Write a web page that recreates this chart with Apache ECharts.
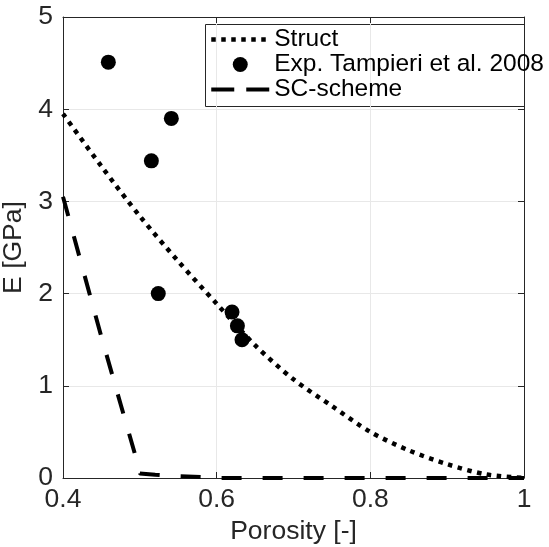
<!DOCTYPE html>
<html>
<head>
<meta charset="utf-8">
<script src="https://cdn.jsdelivr.net/npm/echarts@6/dist/echarts.min.js"></script>
<style>
html,body{margin:0;padding:0;background:#fff;}
#chart{width:549px;height:547px;}
</style>
</head>
<body>
<div id="chart"></div>
<script>
// Struct model curve (porosity, E)
var structX = [0.40, 0.45, 0.50, 0.55, 0.60, 0.65, 0.70, 0.75, 0.80, 0.85, 0.90, 0.95, 1.00];
var structE = [3.95, 3.38, 2.84, 2.35, 1.89, 1.44, 1.07, 0.78, 0.50, 0.30, 0.15, 0.04, 0.00];
// Experimental data, Tampieri et al. 2008
var expX = [0.459, 0.541, 0.515, 0.524, 0.620, 0.627, 0.633];
var expE = [4.51, 3.90, 3.44, 2.00, 1.80, 1.65, 1.50];
// SC-scheme curve
var scX = [0.40, 0.425, 0.45, 0.475, 0.494, 0.50, 0.52, 0.55, 0.58, 0.60, 1.00];
var scE = [3.05, 2.29, 1.53, 0.80, 0.25, 0.05, 0.035, 0.02, 0.01, 0.00, 0.00];
// axis ticks
var xTicks = [0.4, 0.6, 0.8, 1];
var yTicks = [0, 1, 2, 3, 4, 5];
var seriesNames = ['Struct', 'Exp. Tampieri et al. 2008', 'SC-scheme'];

function pairs(xs, ys) { return xs.map(function (x, i) { return [x, ys[i]]; }); }

var axisColor = '#262626';
var font = 'Liberation Sans, Arial, Helvetica, sans-serif';
var fs = 26.5;
var lfs = 24.5;

var chart = echarts.init(document.getElementById('chart'), null, {renderer: 'canvas'});
var option = {
  animation: false,
  backgroundColor: '#ffffff',
  grid: {left: 63, right: 25, top: 17, bottom: 69, containLabel: false, outerBoundsMode: 'none'},
  xAxis: [{
    type: 'value', min: xTicks[0], max: xTicks[xTicks.length - 1], interval: 0.2,
    position: 'bottom',
    name: 'Porosity [-]', nameLocation: 'middle', nameGap: 34,
    nameTextStyle: {color: axisColor, fontSize: fs, fontFamily: font},
    axisLine: {show: true, onZero: false, lineStyle: {color: axisColor, width: 1}},
    axisTick: {show: true, inside: true, length: 6, lineStyle: {color: axisColor}},
    axisLabel: {color: axisColor, fontSize: fs, fontFamily: font, margin: 8,
      formatter: function (v) { return String(Math.round(v * 10) / 10); }},
    splitLine: {show: true, lineStyle: {color: '#e8e8e8', width: 1}}
  }, {
    type: 'value', min: xTicks[0], max: xTicks[xTicks.length - 1], interval: 0.2,
    position: 'top',
    axisLine: {show: true, onZero: false, lineStyle: {color: axisColor, width: 1}},
    axisTick: {show: true, inside: true, length: 6, lineStyle: {color: axisColor}},
    axisLabel: {show: false}, splitLine: {show: false}
  }],
  yAxis: [{
    type: 'value', min: yTicks[0], max: yTicks[yTicks.length - 1], interval: 1,
    position: 'left',
    name: 'E [GPa]', nameLocation: 'middle', nameGap: 31, nameRotate: 90,
    nameTextStyle: {color: axisColor, fontSize: fs, fontFamily: font},
    axisLine: {show: true, onZero: false, lineStyle: {color: axisColor, width: 1}},
    axisTick: {show: true, inside: true, length: 6, lineStyle: {color: axisColor}},
    axisLabel: {color: axisColor, fontSize: fs, fontFamily: font, margin: 10},
    splitLine: {show: true, lineStyle: {color: '#e8e8e8', width: 1}}
  }, {
    type: 'value', min: yTicks[0], max: yTicks[yTicks.length - 1], interval: 1,
    position: 'right',
    axisLine: {show: true, onZero: false, lineStyle: {color: axisColor, width: 1}},
    axisTick: {show: true, inside: true, length: 6, lineStyle: {color: axisColor}},
    axisLabel: {show: false}, splitLine: {show: false}
  }],
  legend: {
    orient: 'vertical', left: 209, top: 27, padding: 0, itemGap: 0,
    itemWidth: 58, itemHeight: 15,
    data: [
      {name: seriesNames[0], itemStyle: {opacity: 0},
       lineStyle: {width: 4.5, type: [4.5, 5.5], cap: 'butt', color: '#000'}},
      {name: seriesNames[1]},
      {name: seriesNames[2], itemStyle: {opacity: 0},
       lineStyle: {width: 4, type: [23, 12], cap: 'butt', color: '#000'}}
    ],
    textStyle: {color: '#000', fontSize: lfs, fontFamily: font, lineHeight: 25}
  },
  graphic: [{
    type: 'rect', left: 205, top: 24, z: 0,
    shape: {width: 319, height: 82},
    style: {fill: '#ffffff', stroke: '#262626', lineWidth: 1}
  }],
  series: [{
    name: seriesNames[0], type: 'line', data: pairs(structX, structE),
    smooth: 0.3, symbol: 'none', z: 3,
    lineStyle: {color: '#000', width: 4.5, type: [4.5, 5.5], cap: 'butt'},
    itemStyle: {color: '#000'}
  }, {
    name: seriesNames[1], type: 'scatter', data: pairs(expX, expE),
    symbol: 'circle', symbolSize: 15, z: 4,
    itemStyle: {color: '#000', opacity: 1}
  }, {
    name: seriesNames[2], type: 'line', data: pairs(scX, scE),
    smooth: false, symbol: 'none', z: 3,
    lineStyle: {color: '#000', width: 4, type: [20, 21], cap: 'butt'},
    itemStyle: {color: '#000'}
  }]
};
chart.setOption(option);
</script>
</body>
</html>
